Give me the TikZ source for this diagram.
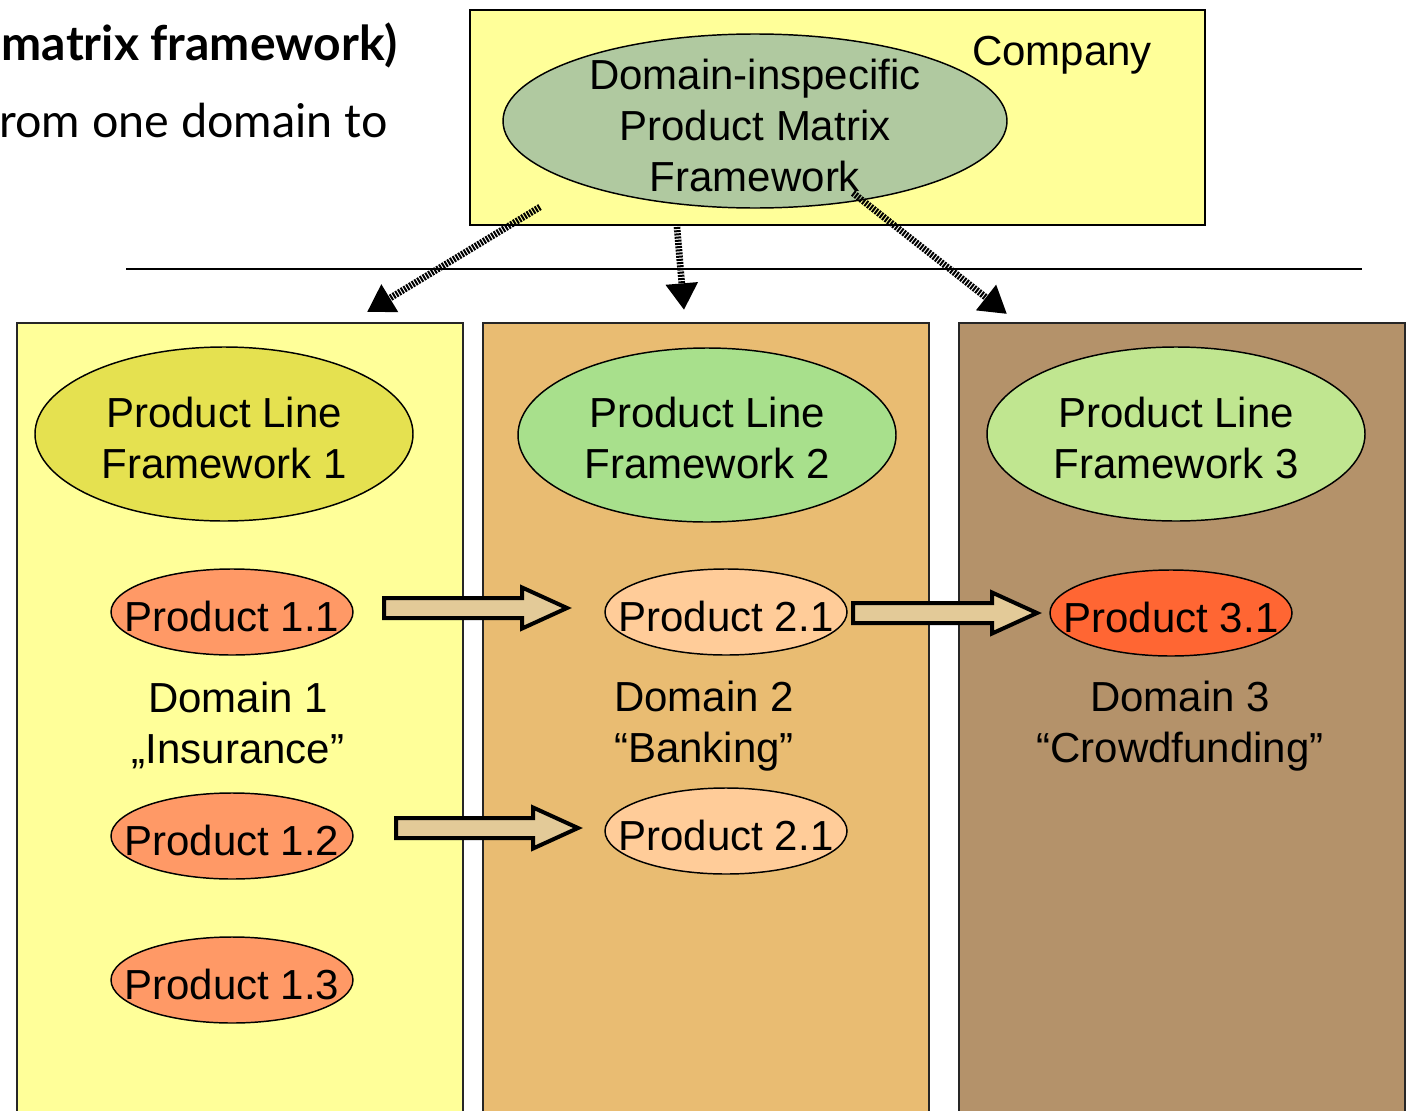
\documentclass[tikz,border=0pt]{standalone}
\usepackage{fontspec}
\setmainfont{Liberation Sans}
\newfontfamily\latofont{Lato}
\usetikzlibrary{shapes.geometric,arrows.meta,calc}
\definecolor{lightyellow}{HTML}{FFFF99}
\definecolor{sage}{HTML}{B0C9A0}
\definecolor{plfone}{HTML}{E5E150}
\definecolor{plftwo}{HTML}{A8E08C}
\definecolor{plfthree}{HTML}{C0E690}
\definecolor{coltwo}{HTML}{E9BC72}
\definecolor{colthree}{HTML}{B4926A}
\definecolor{prodone}{HTML}{FF9966}
\definecolor{prodtwo}{HTML}{FFCC99}
\definecolor{prodthree}{HTML}{FF6633}
\definecolor{arrowfill}{HTML}{E3CA98}
\begin{document}
\begin{tikzpicture}[x=0.75pt,y=-0.75pt,
  ell/.style={ellipse, draw=black, line width=1.1pt, inner sep=0pt},
  plf/.style={ell, minimum width=283.5pt, minimum height=130.5pt},
  prod/.style={ell, minimum width=181.5pt, minimum height=64.5pt},
  big/.style={font=\fontsize{31.5}{38.25}\selectfont, align=center, inner sep=0pt},
  colbox/.style={draw=black!85, line width=1.2pt},
  dotarrow/.style={line width=5pt, dash pattern=on 1.5pt off 0.9pt, -{Triangle[length=20pt,width=23pt]}},
  blockarrow/.style={draw=black, line width=3pt, fill=arrowfill, line join=miter},
  slide/.style={font=\latofont\fontsize{36}{44}\selectfont, inner sep=0pt, anchor=base east}
]
\useasboundingbox (0,0) rectangle (1406,1110);

% slide text fragments
\node[slide] (t1) at (398,60) {\bfseries matrix framework)};
\node[slide, font=\latofont\fontsize{35}{42}\selectfont] (t2) at (388,137) {rom one domain to};

% company box
\node[draw=black, line width=1.5pt, fill=lightyellow, minimum width=551.25pt, minimum height=161.25pt, inner sep=0pt] (company) at (837.5,117.5) {};
\node[big] (companytxt) at (1062,55) {Company};
\node[ell, fill=sage, minimum width=378pt, minimum height=130.5pt] (dipmf) at (755,121) {};
\node[big] (dipmftxt) at (755,125) {Domain-inspecific\\Product Matrix\\Framework};

% separator line
\coordinate (sepL) at (126,269);
\coordinate (sepR) at (1362,269);
\draw[line width=1.5pt] (sepL) -- (sepR);

% columns
\node[colbox, fill=lightyellow, minimum width=334.5pt, minimum height=600pt, inner sep=0pt, anchor=north west] (col1) at (16,322) {};
\node[colbox, fill=coltwo, minimum width=334.5pt, minimum height=600pt, inner sep=0pt, anchor=north west] (col2) at (482,322) {};
\node[colbox, fill=colthree, minimum width=334.5pt, minimum height=600pt, inner sep=0pt, anchor=north west] (col3) at (958,322) {};

% product line frameworks
\node[plf, fill=plfone] (plf1) at (224,434) {};
\node[big] (plf1txt) at (224,438) {Product Line\\Framework 1};
\node[plf, fill=plftwo] (plf2) at (707,435) {};
\node[big] (plf2txt) at (707,438) {Product Line\\Framework 2};
\node[plf, fill=plfthree] (plf3) at (1176,434) {};
\node[big] (plf3txt) at (1176,438) {Product Line\\Framework 3};

% products
\node[prod, fill=prodone] (p11) at (232,612) {};
\node[big] (p11txt) at (232,616) {Product 1.1};
\node[prod, fill=prodone] (p12) at (232,836) {};
\node[big] (p12txt) at (232,840) {Product 1.2};
\node[prod, fill=prodone] (p13) at (232,980) {};
\node[big] (p13txt) at (232,984) {Product 1.3};
\node[prod, fill=prodtwo] (p21) at (726,612) {};
\node[big] (p21txt) at (726,616) {Product 2.1};
\node[prod, fill=prodtwo] (p22) at (726,831) {};
\node[big] (p22txt) at (726,835) {Product 2.1};
\node[prod, fill=prodthree] (p31) at (1171,613) {};
\node[big] (p31txt) at (1171,617) {Product 3.1};

% domain labels
\node[big] (dom1) at (238,725) {Domain 1\\„Insurance”};
\node[big] (dom2) at (704,726) {Domain 2\\“Banking”};
\node[big] (dom3) at (1180,726) {Domain 3\\“Crowdfunding”};

% dotted arrows
\coordinate (da1s) at (540,207);
\coordinate (da1e) at (367,312);
\coordinate (da2s) at (677,227);
\coordinate (da2e) at (684,310);
\coordinate (da3s) at (853,193);
\coordinate (da3e) at (1007,314);
\draw[dotarrow] (da1s) -- (da1e);
\draw[dotarrow] (da2s) -- (da2e);
\draw[dotarrow] (da3s) -- (da3e);

% block arrows
\coordinate (ba1s) at (384,608);
\coordinate (ba1e) at (567,608);
\coordinate (ba2s) at (853,613);
\coordinate (ba2e) at (1037,613);
\coordinate (ba3s) at (396,828);
\coordinate (ba3e) at (578,828);
\foreach \s/\e in {ba1s/ba1e, ba2s/ba2e, ba3s/ba3e}{
  \draw[blockarrow] let \p1=(\s), \p2=(\e) in
    (\x1,\y1+7.5pt) -- (\x2-33.75pt,\y1+7.5pt) -- (\x2-33.75pt,\y1+15.4pt) -- (\x2,\y1)
    -- (\x2-33.75pt,\y1-15.4pt) -- (\x2-33.75pt,\y1-7.5pt) -- (\x1,\y1-7.5pt) -- cycle;
}
\end{tikzpicture}
\end{document}
